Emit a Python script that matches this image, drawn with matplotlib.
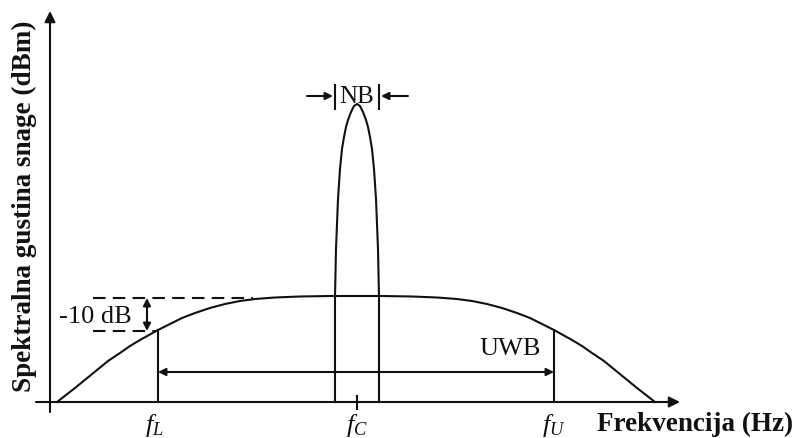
import matplotlib
matplotlib.use("Agg")
import matplotlib.pyplot as plt

# all coordinates are in picture pixels (x right, y down)
plt.rcParams['font.family'] = ['Liberation Serif', 'DejaVu Serif']
plt.rcParams['mathtext.fontset'] = 'custom'
plt.rcParams['mathtext.it'] = 'Liberation Serif:italic'
plt.rcParams['mathtext.rm'] = 'Liberation Serif'

# UWB spectrum (wide, flat top)
uwb_x = [57, 66, 75, 86, 97, 108, 120, 130, 140, 149, 158, 170, 182, 195,
         210, 225, 240, 255, 275, 300, 330, 356, 382, 412, 437, 457, 472,
         487, 502, 517, 530, 542, 554, 563, 572, 582, 592, 604, 615, 626,
         637, 646, 655]
uwb_y = [403, 396, 389, 380, 371, 362, 354, 347, 341, 336, 331, 325, 319,
         314, 309, 305, 302, 300, 298.5, 297.5, 297, 297, 297, 297.5,
         298.5, 300, 302, 305, 309, 314, 319, 325, 331, 336, 341, 347, 354,
         362, 371, 380, 389, 396, 403]

# NB spectrum (narrow peak)
nb_x = [335, 335, 336, 338, 340, 342, 344, 346, 348, 351, 354, 357, 360,
        363, 366, 368, 370, 372, 374, 376, 378, 379, 379]
nb_y = [403, 298, 250, 200, 170, 150, 138, 128, 121, 113, 107, 105, 107,
        113, 121, 128, 138, 150, 170, 200, 250, 298, 403]

# frequency markers
f_pos = [158, 357, 554]
f_labels = ['$f_L$', '$f_C$', '$f_U$']
f_top = [331, 397, 331]

x_axis = [36, 680]
y_axis = [413, 12]
axis_y0 = 403
axis_x0 = 50

db_top, db_bot = 299, 332
uwb_arrow_y = 373

col = '#111111'
lw = 1.5

fig = plt.figure(figsize=(7.95, 4.39), dpi=100)
ax = fig.add_axes([0, 0, 1, 1])
ax.set_xlim(0, 795)
ax.set_ylim(439, 0)
ax.axis('off')

# axes with arrows
ax.annotate('', xy=(x_axis[1], axis_y0), xytext=(x_axis[0], axis_y0),
            arrowprops=dict(arrowstyle='-|>', lw=lw, color=col,
                            mutation_scale=16, shrinkA=0, shrinkB=0))
ax.annotate('', xy=(axis_x0, y_axis[1]), xytext=(axis_x0, y_axis[0]),
            arrowprops=dict(arrowstyle='-|>', lw=lw, color=col,
                            mutation_scale=16, shrinkA=0, shrinkB=0))

# spectra
ax.plot(uwb_x, uwb_y, color=col, lw=lw, solid_joinstyle='round')
ax.plot(nb_x, nb_y, color=col, lw=lw, solid_joinstyle='round')

# vertical marker lines f_L, f_C tick, f_U
for x, top in zip(f_pos, f_top):
    bottom = 410 if x == 357 else axis_y0
    ax.plot([x, x], [top, bottom], color=col, lw=lw)
for x, lab in zip(f_pos, f_labels):
    ax.text(x - 4 if x == 158 else x, 426, lab, fontsize=19, ha='center',
            va='center', color=col)

# -10 dB marking
ax.plot([93, 253], [db_top, db_top], color=col, lw=lw, dashes=(6, 3.5))
ax.plot([93, 158], [db_bot, db_bot], color=col, lw=lw, dashes=(6, 3.5))
ax.annotate('', xy=(147, db_top), xytext=(147, db_bot),
            arrowprops=dict(arrowstyle='<|-|>', lw=lw, color=col,
                            mutation_scale=11, shrinkA=0, shrinkB=0))
ax.text(95, 317, '-10 dB', fontsize=19, ha='center', va='center', color=col)

# UWB width arrow
ax.annotate('', xy=(f_pos[2], uwb_arrow_y), xytext=(f_pos[0], uwb_arrow_y),
            arrowprops=dict(arrowstyle='<|-|>', lw=lw, color=col,
                            mutation_scale=11, shrinkA=0, shrinkB=0))
ax.text(510, 349, 'UWB', fontsize=19, ha='center', va='center', color=col)

# NB width marking
ax.plot([335, 335], [86, 110], color=col, lw=lw)
ax.plot([379, 379], [86, 110], color=col, lw=lw)
ax.annotate('', xy=(333, 97), xytext=(307, 97),
            arrowprops=dict(arrowstyle='-|>', lw=lw, color=col,
                            mutation_scale=11, shrinkA=0, shrinkB=0))
ax.annotate('', xy=(381, 97), xytext=(408, 97),
            arrowprops=dict(arrowstyle='-|>', lw=lw, color=col,
                            mutation_scale=11, shrinkA=0, shrinkB=0))
ax.text(357, 97, 'NB', fontsize=18, ha='center', va='center', color=col)

# axis titles
ax.text(24, 206, 'Spektralna gustina snage (dBm)', fontsize=19.5,
        fontweight='bold', rotation=90, ha='center', va='center', color=col)
ax.text(793, 424, 'Frekvencija (Hz)', fontsize=19.5, fontweight='bold',
        ha='right', va='center', color=col)

fig.savefig('out.png', dpi=100)
